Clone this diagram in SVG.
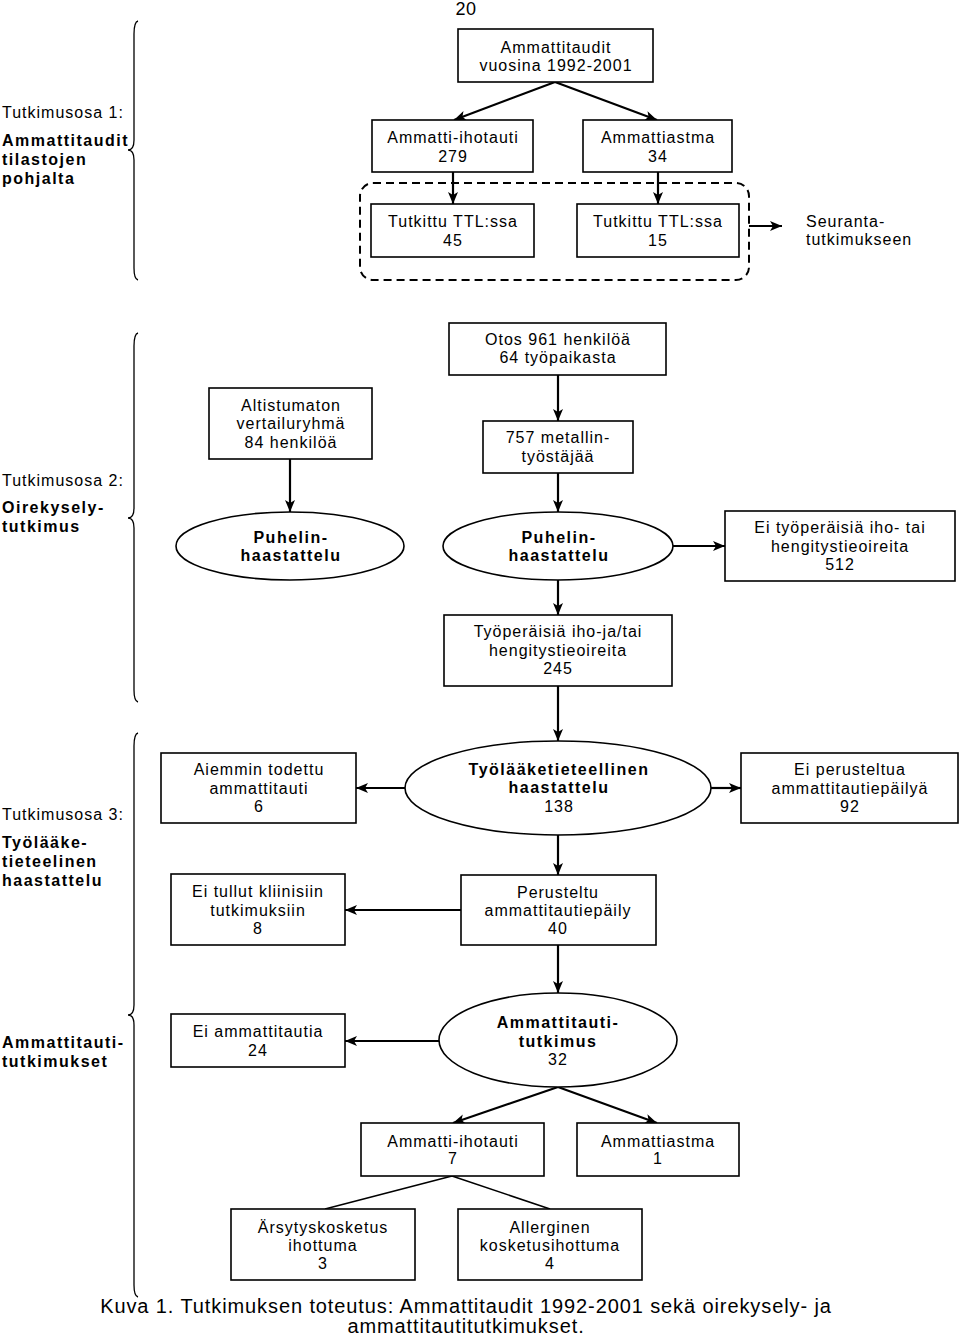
<svg xmlns="http://www.w3.org/2000/svg" width="960" height="1339" viewBox="0 0 960 1339">
<style>
text{font-family:"Liberation Sans",Arial,sans-serif;fill:#000}
.t{font-size:16px;letter-spacing:1px;text-anchor:middle}
.b{font-size:16px;letter-spacing:1.5px;font-weight:bold;text-anchor:middle}
.l{font-size:16px;letter-spacing:1px}
.lb{font-size:16px;letter-spacing:1.5px;font-weight:bold}
.cap{font-size:20px;letter-spacing:0.9px;text-anchor:middle}
.box{fill:#fff;stroke:#000;stroke-width:1.6}
.brace{fill:none;stroke:#000;stroke-width:1.3}
.c{fill:none;stroke:#000;stroke-width:2.2}
.ca{fill:none;stroke:#000;stroke-width:2.2;marker-end:url(#ah)}
.thin{fill:none;stroke:#000;stroke-width:1.6}
</style>
<defs>
<marker id="ah" markerUnits="userSpaceOnUse" markerWidth="12" markerHeight="10" refX="12" refY="5" orient="auto">
<path d="M0,0 L12,5 L0,10 L3,5 z" fill="#000"/>
</marker>
</defs>
<rect width="960" height="1339" fill="#fff"/>

<text x="466" y="15" style="font-size:18px;text-anchor:middle;letter-spacing:0.5px">20</text>

<g id="braces">
<path class="brace" d="M138,21 Q134,22 134,34 L134,140 Q134,150 128,150 Q134,150 134,160 L134,268 Q134,279 138,280"/>
<path class="brace" d="M138,333 Q134,334 134,346 L134,508 Q134,518 128,518 Q134,518 134,528 L134,690 Q134,701 138,702"/>
<path class="brace" d="M138,733 Q134,734 134,746 L134,1005 Q134,1015 128,1015 Q134,1015 134,1025 L134,1285 Q134,1296 138,1297"/>
</g>

<g id="labels">
<text class="l" x="2" y="118">Tutkimusosa 1:</text>
<text class="lb" x="2" y="146">Ammattitaudit</text>
<text class="lb" x="2" y="165">tilastojen</text>
<text class="lb" x="2" y="184">pohjalta</text>
<text class="l" x="2" y="486">Tutkimusosa 2:</text>
<text class="lb" x="2" y="513">Oirekysely-</text>
<text class="lb" x="2" y="532">tutkimus</text>
<text class="l" x="2" y="820">Tutkimusosa 3:</text>
<text class="lb" x="2" y="848">Työlääke-</text>
<text class="lb" x="2" y="867">tieteelinen</text>
<text class="lb" x="2" y="886">haastattelu</text>
<text class="lb" x="2" y="1048">Ammattitauti-</text>
<text class="lb" x="2" y="1067">tutkimukset</text>
</g>

<g id="connectors">
<rect x="360" y="183" width="389" height="97" rx="13" fill="none" stroke="#000" stroke-width="2" stroke-dasharray="8 5"/>
<path class="ca" d="M555,82 L454,120"/>
<path class="ca" d="M555,82 L657,120"/>
<path class="ca" d="M453,172 L453,204"/>
<path class="ca" d="M658,172 L658,204"/>
<path class="ca" d="M749,226 L782,226"/>
<path class="ca" d="M558,375 L558,421"/>
<path class="ca" d="M558,473 L558,512"/>
<path class="ca" d="M290,459 L290,512"/>
<path class="ca" d="M673,546 L725,546"/>
<path class="ca" d="M558,580 L558,615"/>
<path class="ca" d="M558,686 L558,741"/>
<path class="ca" d="M405,788 L356,788"/>
<path class="ca" d="M711,788 L741,788"/>
<path class="ca" d="M558,835 L558,875"/>
<path class="ca" d="M461,910 L345,910"/>
<path class="ca" d="M558,945 L558,993"/>
<path class="ca" d="M439,1041 L345,1041"/>
<path class="ca" d="M558,1087 L453,1123"/>
<path class="ca" d="M558,1087 L657,1123"/>
<path class="thin" d="M452,1176 L325,1209"/>
<path class="thin" d="M452,1176 L550,1209"/>
</g>

<g id="n-top">
<rect class="box" x="458" y="29" width="195" height="53"/>
<text class="t" x="556" y="53">Ammattitaudit</text>
<text class="t" x="556" y="71">vuosina 1992-2001</text>
</g>
<g id="n-iho1">
<rect class="box" x="372" y="120" width="161" height="52"/>
<text class="t" x="453" y="143">Ammatti-ihotauti</text>
<text class="t" x="453" y="162">279</text>
</g>
<g id="n-astma1">
<rect class="box" x="583" y="120" width="149" height="52"/>
<text class="t" x="658" y="143">Ammattiastma</text>
<text class="t" x="658" y="162">34</text>
</g>
<g id="n-ttl45">
<rect class="box" x="371" y="204" width="163" height="53"/>
<text class="t" x="453" y="227">Tutkittu TTL:ssa</text>
<text class="t" x="453" y="246">45</text>
</g>
<g id="n-ttl15">
<rect class="box" x="577" y="204" width="162" height="53"/>
<text class="t" x="658" y="227">Tutkittu TTL:ssa</text>
<text class="t" x="658" y="246">15</text>
</g>
<g id="n-seuranta">
<text class="l" x="806" y="227">Seuranta-</text>
<text class="l" x="806" y="245">tutkimukseen</text>
</g>

<g id="n-otos">
<rect class="box" x="449" y="323" width="217" height="52"/>
<text class="t" x="558" y="345">Otos 961 henkilöä</text>
<text class="t" x="558" y="363">64 työpaikasta</text>
</g>
<g id="n-altistumaton">
<rect class="box" x="209" y="388" width="163" height="71"/>
<text class="t" x="291" y="411">Altistumaton</text>
<text class="t" x="291" y="429">vertailuryhmä</text>
<text class="t" x="291" y="448">84 henkilöä</text>
</g>
<g id="n-757">
<rect class="box" x="483" y="421" width="150" height="52"/>
<text class="t" x="558" y="443">757 metallin-</text>
<text class="t" x="558" y="462">työstäjää</text>
</g>
<g id="n-puhelin1">
<ellipse class="box" cx="290" cy="546" rx="114" ry="34"/>
<text class="b" x="291" y="543">Puhelin-</text>
<text class="b" x="291" y="561">haastattelu</text>
</g>
<g id="n-puhelin2">
<ellipse class="box" cx="558" cy="546" rx="115" ry="34"/>
<text class="b" x="559" y="543">Puhelin-</text>
<text class="b" x="559" y="561">haastattelu</text>
</g>
<g id="n-ei512">
<rect class="box" x="725" y="511" width="230" height="70"/>
<text class="t" x="840" y="533">Ei työperäisiä iho- tai</text>
<text class="t" x="840" y="552">hengitystieoireita</text>
<text class="t" x="840" y="570">512</text>
</g>
<g id="n-245">
<rect class="box" x="444" y="615" width="228" height="71"/>
<text class="t" x="558" y="637">Työperäisiä iho-ja/tai</text>
<text class="t" x="558" y="656">hengitystieoireita</text>
<text class="t" x="558" y="674">245</text>
</g>

<g id="n-tyolaake">
<ellipse class="box" cx="558" cy="788" rx="153" ry="47"/>
<text class="b" x="559" y="775">Työlääketieteellinen</text>
<text class="b" x="559" y="793">haastattelu</text>
<text class="t" x="559" y="812">138</text>
</g>
<g id="n-aiemmin">
<rect class="box" x="161" y="753" width="195" height="70"/>
<text class="t" x="259" y="775">Aiemmin todettu</text>
<text class="t" x="259" y="794">ammattitauti</text>
<text class="t" x="259" y="812">6</text>
</g>
<g id="n-ei92">
<rect class="box" x="741" y="753" width="217" height="70"/>
<text class="t" x="850" y="775">Ei perusteltua</text>
<text class="t" x="850" y="794">ammattitautiepäilyä</text>
<text class="t" x="850" y="812">92</text>
</g>
<g id="n-perusteltu">
<rect class="box" x="461" y="875" width="195" height="70"/>
<text class="t" x="558" y="898">Perusteltu</text>
<text class="t" x="558" y="916">ammattitautiepäily</text>
<text class="t" x="558" y="934">40</text>
</g>
<g id="n-eitullut">
<rect class="box" x="171" y="874" width="174" height="71"/>
<text class="t" x="258" y="897">Ei tullut kliinisiin</text>
<text class="t" x="258" y="916">tutkimuksiin</text>
<text class="t" x="258" y="934">8</text>
</g>
<g id="n-amtutkimus">
<ellipse class="box" cx="558" cy="1040" rx="119" ry="47"/>
<text class="b" x="558" y="1028">Ammattitauti-</text>
<text class="b" x="558" y="1047">tutkimus</text>
<text class="t" x="558" y="1065">32</text>
</g>
<g id="n-ei24">
<rect class="box" x="171" y="1014" width="174" height="53"/>
<text class="t" x="258" y="1037">Ei ammattitautia</text>
<text class="t" x="258" y="1056">24</text>
</g>
<g id="n-iho7">
<rect class="box" x="361" y="1123" width="183" height="53"/>
<text class="t" x="453" y="1147">Ammatti-ihotauti</text>
<text class="t" x="453" y="1164">7</text>
</g>
<g id="n-astma1b">
<rect class="box" x="577" y="1123" width="162" height="53"/>
<text class="t" x="658" y="1147">Ammattiastma</text>
<text class="t" x="658" y="1164">1</text>
</g>
<g id="n-arsytys">
<rect class="box" x="231" y="1209" width="184" height="71"/>
<text class="t" x="323" y="1233">Ärsytyskosketus</text>
<text class="t" x="323" y="1251">ihottuma</text>
<text class="t" x="323" y="1269">3</text>
</g>
<g id="n-allerginen">
<rect class="box" x="458" y="1209" width="184" height="71"/>
<text class="t" x="550" y="1233">Allerginen</text>
<text class="t" x="550" y="1251">kosketusihottuma</text>
<text class="t" x="550" y="1269">4</text>
</g>

<g id="caption">
<text class="cap" x="466" y="1313">Kuva 1. Tutkimuksen toteutus: Ammattitaudit 1992-2001 sekä oirekysely- ja</text>
<text class="cap" x="466" y="1333">ammattitautitutkimukset.</text>
</g>
</svg>
